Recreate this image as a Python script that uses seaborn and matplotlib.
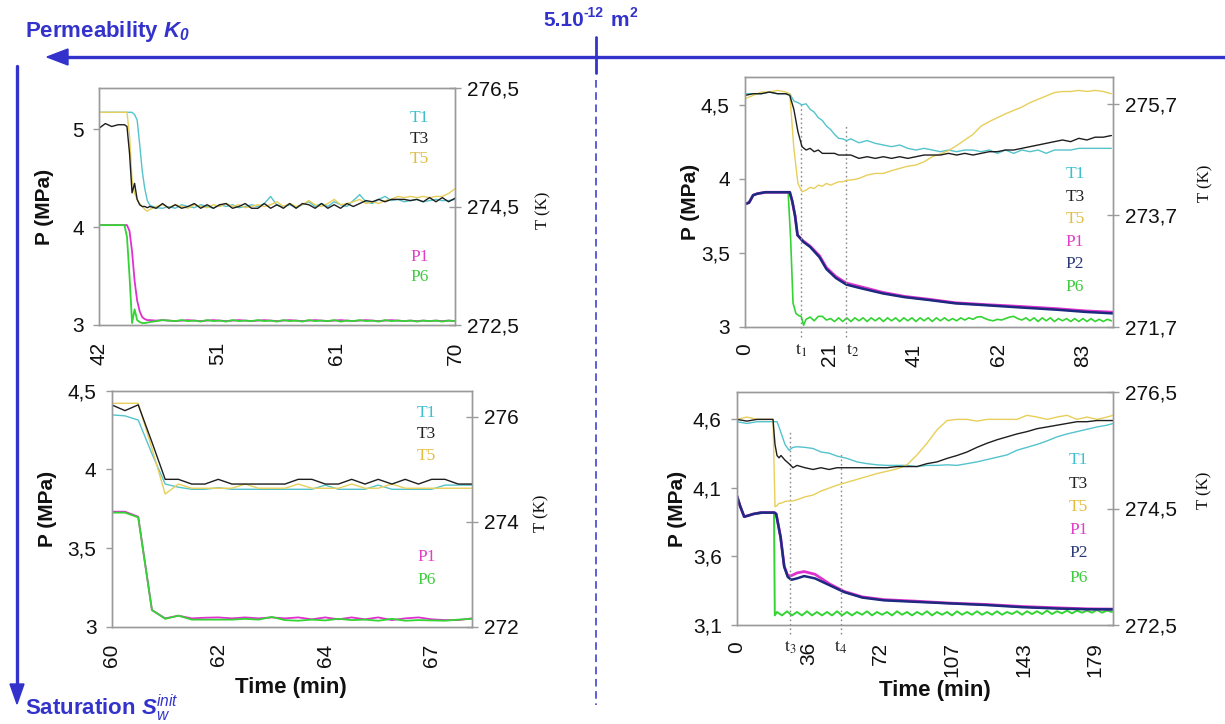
import matplotlib
matplotlib.use('Agg')
import matplotlib.pyplot as plt
import seaborn as sns
from matplotlib.lines import Line2D
from matplotlib.patches import Polygon
import matplotlib.transforms as mtransforms

# ---------------- data: top-left panel ----------------
TL_TIME = [42.0, 42.5, 43.0, 43.5, 44.0,
           44.2, 44.4, 44.6, 44.8, 45.0, 45.2, 45.4, 45.6, 45.8, 46.0,
           46.5, 47.0, 47.5, 48.0, 48.5, 49.0, 49.5, 50.0, 50.5, 51.0,
           51.5, 52.0, 52.5, 53.0, 53.5, 54.0, 54.5, 55.0, 55.5, 56.0,
           56.5, 57.0, 57.5, 58.0, 58.5, 59.0, 59.5, 60.0, 60.5, 61.0,
           61.5, 62.0, 62.5, 63.0, 63.5, 64.0, 64.5, 65.0, 65.5, 66.0,
           66.5, 67.0, 67.5, 68.0, 68.5, 69.0, 69.5, 70.0]
TL_T1 = [276.09, 276.09, 276.09, 276.09, 276.09,
         276.09, 276.09, 276.09, 276.05, 275.96, 275.55, 275.10, 274.80, 274.60, 274.52,
         274.48, 274.47, 274.50, 274.47, 274.53, 274.50, 274.48, 274.53, 274.50, 274.47,
         274.53, 274.50, 274.53, 274.48, 274.50, 274.53, 274.50, 274.55, 274.67, 274.52,
         274.50, 274.53, 274.48, 274.53, 274.58, 274.50, 274.55, 274.50, 274.58, 274.53,
         274.50, 274.60, 274.70, 274.58, 274.55, 274.62, 274.67, 274.60, 274.62, 274.58,
         274.60, 274.62, 274.58, 274.60, 274.62, 274.60, 274.60, 274.62]
TL_T3 = [275.82, 275.90, 275.85, 275.88, 275.88,
         275.85, 275.40, 274.73, 274.89, 274.62, 274.53, 274.50, 274.50, 274.48, 274.50,
         274.47, 274.55, 274.47, 274.53, 274.47, 274.50, 274.55, 274.47, 274.53, 274.47,
         274.53, 274.55, 274.47, 274.50, 274.55, 274.47, 274.47, 274.55, 274.47, 274.53,
         274.47, 274.55, 274.47, 274.55, 274.53, 274.47, 274.55, 274.47, 274.53, 274.47,
         274.55, 274.50, 274.55, 274.60, 274.58, 274.62, 274.58, 274.62, 274.62, 274.62,
         274.60, 274.62, 274.58, 274.65, 274.58, 274.65, 274.58, 274.64]
TL_T5 = [276.09, 276.09, 276.09, 276.09, 276.09,
         276.09, 275.70, 274.95, 274.72, 274.62, 274.55, 274.50, 274.45, 274.42, 274.45,
         274.50, 274.53, 274.48, 274.53, 274.50, 274.47, 274.53, 274.50, 274.48, 274.53,
         274.50, 274.55, 274.50, 274.53, 274.48, 274.50, 274.53, 274.50, 274.53, 274.58,
         274.50, 274.55, 274.50, 274.53, 274.60, 274.53, 274.50, 274.55, 274.62, 274.53,
         274.55, 274.58, 274.62, 274.55, 274.58, 274.55, 274.60, 274.62, 274.67, 274.65,
         274.67, 274.65, 274.67, 274.65, 274.67, 274.67, 274.72, 274.80]
TL_P1 = [4.02, 4.02, 4.02, 4.02, 4.02,
         4.02, 3.96, 3.75, 3.45, 3.25, 3.14, 3.08, 3.06, 3.05, 3.05,
         3.045, 3.05, 3.045, 3.04, 3.045, 3.05, 3.045, 3.04, 3.045, 3.05,
         3.045, 3.04, 3.045, 3.05, 3.045, 3.04, 3.045, 3.05, 3.045, 3.04,
         3.045, 3.05, 3.045, 3.04, 3.045, 3.05, 3.045, 3.04, 3.045, 3.05,
         3.045, 3.04, 3.045, 3.05, 3.045, 3.04, 3.045, 3.05, 3.045, 3.04,
         3.045, 3.04, 3.045, 3.04, 3.045, 3.04, 3.045, 3.04]
TL_P6 = [4.02, 4.02, 4.02, 4.02, 4.02,
         3.90, 3.50, 3.02, 3.16, 3.05, 3.03, 3.02, 3.02, 3.025, 3.03,
         3.04, 3.05, 3.045, 3.04, 3.05, 3.04, 3.045, 3.035, 3.05, 3.04,
         3.045, 3.035, 3.05, 3.04, 3.045, 3.04, 3.05, 3.04, 3.045, 3.035,
         3.05, 3.04, 3.045, 3.035, 3.05, 3.04, 3.045, 3.04, 3.05, 3.035,
         3.045, 3.04, 3.05, 3.04, 3.045, 3.035, 3.05, 3.04, 3.045, 3.04,
         3.045, 3.035, 3.045, 3.04, 3.045, 3.035, 3.045, 3.04]

# ---------------- data: bottom-left panel ----------------
BL_TIME = [60.00, 60.29, 60.58, 60.88, 61.17, 61.46, 61.75, 62.04, 62.33, 62.63,
           62.92, 63.21, 63.50, 63.79, 64.08, 64.38, 64.67, 64.96, 65.25, 65.54,
           65.83, 66.13, 66.42, 66.71, 67.00, 67.29, 67.58, 67.88]
BL_T1 = [276.04, 276.02, 275.94, 275.30, 274.72, 274.66, 274.62, 274.62, 274.65, 274.62,
         274.62, 274.62, 274.62, 274.62, 274.62, 274.62, 274.70, 274.62, 274.62, 274.62,
         274.70, 274.62, 274.62, 274.62, 274.62, 274.70, 274.70, 274.70]
BL_T3 = [276.23, 276.12, 276.23, 275.52, 274.81, 274.81, 274.72, 274.72, 274.81, 274.72,
         274.72, 274.72, 274.72, 274.72, 274.81, 274.81, 274.72, 274.72, 274.81, 274.72,
         274.81, 274.72, 274.81, 274.72, 274.81, 274.81, 274.72, 274.72]
BL_T5 = [276.26, 276.26, 276.26, 275.40, 274.53, 274.72, 274.64, 274.64, 274.64, 274.64,
         274.72, 274.64, 274.64, 274.64, 274.72, 274.64, 274.64, 274.64, 274.72, 274.64,
         274.64, 274.72, 274.64, 274.64, 274.64, 274.64, 274.64, 274.64]
BL_P1 = [3.731, 3.731, 3.699, 3.106, 3.053, 3.070, 3.053, 3.057, 3.059, 3.053,
         3.059, 3.053, 3.059, 3.053, 3.059, 3.047, 3.059, 3.047, 3.059, 3.047,
         3.059, 3.042, 3.053, 3.059, 3.047, 3.042, 3.042, 3.053]
BL_P6 = [3.725, 3.725, 3.695, 3.106, 3.050, 3.070, 3.045, 3.045, 3.045, 3.045,
         3.050, 3.045, 3.062, 3.042, 3.038, 3.045, 3.040, 3.050, 3.042, 3.045,
         3.038, 3.050, 3.038, 3.042, 3.040, 3.038, 3.045, 3.050]

# ---------------- data: top-right panel ----------------
TR_TIME = [0, 2, 4, 6, 8, 10, 11, 12, 13, 14,
           15, 16, 17, 18, 19, 20, 21, 22, 23, 24,
           25, 26, 28, 30, 32, 34, 36, 38, 40, 42,
           44, 46, 48, 50, 52, 54, 56, 58, 60, 62,
           64, 66, 68, 70, 72, 74, 76, 78, 80, 82,
           84, 86, 88, 90]
TR_T1 = [275.88, 275.88, 275.88, 275.91, 275.88, 275.88, 275.88, 275.75, 275.72, 275.68,
         275.70, 275.60, 275.55, 275.45, 275.40, 275.30, 275.24, 275.15, 275.08, 275.07,
         275.04, 275.07, 275.00, 275.04, 274.99, 274.96, 274.93, 274.96, 274.90, 274.87,
         274.90, 274.87, 274.84, 274.87, 274.84, 274.87, 274.87, 274.84, 274.87, 274.81,
         274.87, 274.81, 274.87, 274.84, 274.87, 274.81, 274.87, 274.87, 274.87, 274.90,
         274.90, 274.90, 274.90, 274.90]
TR_T3 = [275.85, 275.88, 275.88, 275.91, 275.88, 275.88, 275.85, 275.60, 275.20, 274.93,
         274.87, 274.90, 274.84, 274.87, 274.81, 274.81, 274.81, 274.81, 274.78, 274.78,
         274.78, 274.78, 274.72, 274.75, 274.72, 274.75, 274.72, 274.75, 274.72, 274.75,
         274.78, 274.78, 274.78, 274.81, 274.78, 274.81, 274.78, 274.81, 274.84, 274.84,
         274.87, 274.87, 274.90, 274.93, 274.96, 274.99, 275.02, 275.05, 275.02, 275.08,
         275.05, 275.10, 275.10, 275.13]
TR_T5 = [275.79, 275.85, 275.91, 275.91, 275.94, 275.91, 275.88, 274.90, 274.27, 274.12,
         274.15, 274.20, 274.18, 274.24, 274.22, 274.27, 274.24, 274.27, 274.30, 274.30,
         274.33, 274.33, 274.36, 274.42, 274.45, 274.45, 274.50, 274.54, 274.58, 274.60,
         274.66, 274.75, 274.80, 274.86, 274.95, 275.05, 275.15, 275.30, 275.38, 275.45,
         275.52, 275.58, 275.64, 275.72, 275.78, 275.84, 275.90, 275.92, 275.92, 275.94,
         275.92, 275.94, 275.92, 275.88]
TR_PTIME = [0, 1, 2, 3, 5, 8, 10, 11, 11.6, 12.3,
            12.9, 14.3, 16, 18.3, 20, 22.3, 24.9, 28.5, 33.9, 39.2,
            45.4, 51.7, 58.8, 67.7, 76.6, 83.7, 90.4]
TR_P1 = [3.83, 3.84, 3.89, 3.90, 3.91, 3.91, 3.91, 3.91, 3.85, 3.75,
         3.62, 3.58, 3.545, 3.48, 3.40, 3.34, 3.295, 3.27, 3.232, 3.205,
         3.185, 3.162, 3.15, 3.137, 3.122, 3.107, 3.098]
TR_P2 = [3.83, 3.84, 3.89, 3.90, 3.91, 3.91, 3.91, 3.91, 3.85, 3.75,
         3.62, 3.575, 3.54, 3.47, 3.39, 3.33, 3.285, 3.26, 3.225, 3.20,
         3.18, 3.158, 3.146, 3.13, 3.115, 3.10, 3.09]
TR_P6_TIME = [0, 1, 2, 3, 5, 8, 10, 10.6, 11.2, 11.8,
              12.5, 13.2, 13.8, 14.4, 15, 16, 17, 18, 19, 20,
              21, 22, 23, 24, 25, 26, 27, 28, 29, 30,
              31, 32, 33, 34, 35, 36, 37, 38, 39, 40,
              41, 42, 43, 44, 45, 46, 47, 48, 49, 50,
              51, 52, 53, 54, 55, 56, 57, 58, 59, 60,
              61, 62, 63, 64, 65, 66, 67, 68, 69, 70,
              71, 72, 73, 74, 75, 76, 77, 78, 79, 80,
              81, 82, 83, 84, 85, 86, 87, 88, 89, 90]
TR_P6 = [3.83, 3.84, 3.89, 3.90, 3.91, 3.91, 3.91, 3.91, 3.60, 3.16,
         3.09, 3.075, 3.07, 3.01, 3.05, 3.065, 3.04, 3.07, 3.07, 3.045,
         3.055, 3.035, 3.06, 3.035, 3.06, 3.035, 3.06, 3.04, 3.06, 3.035,
         3.06, 3.04, 3.06, 3.035, 3.06, 3.04, 3.06, 3.035, 3.06, 3.04,
         3.06, 3.035, 3.06, 3.04, 3.06, 3.035, 3.06, 3.04, 3.06, 3.04,
         3.055, 3.04, 3.06, 3.045, 3.06, 3.05, 3.065, 3.068, 3.055, 3.045,
         3.04, 3.05, 3.045, 3.055, 3.065, 3.07, 3.055, 3.045, 3.06, 3.04,
         3.06, 3.035, 3.06, 3.04, 3.06, 3.035, 3.055, 3.04, 3.055, 3.035,
         3.055, 3.035, 3.055, 3.035, 3.055, 3.035, 3.05, 3.035, 3.05, 3.04]

# ---------------- data: bottom-right panel ----------------
BR_TIME = [0, 5, 10, 15, 18, 19, 20, 21, 22, 24,
           26, 28, 30, 34, 38, 42, 46, 50, 55, 60,
           65, 70, 75, 80, 85, 90, 95, 100, 105, 110,
           115, 120, 125, 130, 135, 140, 145, 150, 155, 160,
           165, 170, 175, 180, 185, 188]
BR_T1 = [275.99, 275.96, 275.99, 275.99, 275.99, 275.99, 275.99, 275.90, 275.80, 275.60,
         275.50, 275.55, 275.56, 275.55, 275.53, 275.47, 275.45, 275.40, 275.36, 275.30,
         275.27, 275.25, 275.24, 275.24, 275.24, 275.22, 275.24, 275.24, 275.25, 275.24,
         275.27, 275.30, 275.34, 275.38, 275.42, 275.50, 275.55, 275.60, 275.66, 275.73,
         275.78, 275.82, 275.86, 275.90, 275.93, 275.96]
BR_T3 = [276.03, 276.00, 276.03, 276.03, 276.03, 275.60, 275.41, 275.37, 275.41, 275.33,
         275.27, 275.20, 275.24, 275.20, 275.17, 275.20, 275.17, 275.20, 275.20, 275.20,
         275.20, 275.20, 275.20, 275.22, 275.22, 275.22, 275.27, 275.30, 275.36, 275.41,
         275.47, 275.55, 275.62, 275.68, 275.73, 275.78, 275.82, 275.87, 275.90, 275.93,
         275.96, 275.99, 275.99, 276.01, 276.01, 276.01]
BR_T5 = [276.03, 276.07, 276.03, 276.03, 276.03, 274.53, 274.55, 274.59, 274.59, 274.62,
         274.63, 274.63, 274.65, 274.70, 274.73, 274.80, 274.85, 274.90, 274.95, 275.00,
         275.05, 275.10, 275.14, 275.18, 275.25, 275.42, 275.62, 275.85, 276.01, 276.03,
         276.03, 276.00, 276.03, 276.03, 276.03, 276.03, 276.10, 276.07, 276.03, 276.07,
         276.10, 276.03, 276.07, 276.03, 276.07, 276.10]
BR_PTIME = [0, 1.5, 3.6, 6, 8.2, 12, 15.4, 18.7, 19.6, 21.8,
            23.6, 25.4, 27.2, 30, 33.6, 39, 46.3, 53.6, 62.7, 73.5,
            88, 106, 124.4, 142.6, 160.7, 175, 188]
BR_P1 = [4.04, 3.97, 3.89, 3.90, 3.91, 3.92, 3.92, 3.92, 3.91, 3.74,
         3.53, 3.46, 3.46, 3.48, 3.49, 3.47, 3.40, 3.345, 3.305, 3.285,
         3.275, 3.26, 3.25, 3.235, 3.225, 3.218, 3.216]
BR_P2 = [4.04, 3.97, 3.89, 3.90, 3.91, 3.92, 3.92, 3.92, 3.91, 3.74,
         3.525, 3.45, 3.43, 3.44, 3.457, 3.44, 3.39, 3.34, 3.30, 3.28,
         3.27, 3.258, 3.246, 3.23, 3.22, 3.215, 3.214]
BR_P6_TIME = [0, 3.6, 8, 15, 18.5, 18.9, 20, 22.5, 25, 27.5,
              30, 32.5, 35, 37.5, 40, 42.5, 45, 47.5, 50, 52.5,
              55, 57.5, 60, 62.5, 65, 67.5, 70, 72.5, 75, 77.5,
              80, 82.5, 85, 87.5, 90, 92.5, 95, 97.5, 100, 102.5,
              105, 107.5, 110, 112.5, 115, 117.5, 120, 122.5, 125, 127.5,
              130, 132.5, 135, 137.5, 140, 142.5, 145, 147.5, 150, 152.5,
              155, 157.5, 160, 162.5, 165, 167.5, 170, 172.5, 175, 177.5,
              180, 182.5, 185, 187.5]
BR_P6 = [4.04, 3.89, 3.91, 3.92, 3.92, 3.17, 3.195, 3.17, 3.20, 3.17,
         3.195, 3.17, 3.20, 3.17, 3.195, 3.17, 3.195, 3.17, 3.20, 3.17,
         3.195, 3.17, 3.195, 3.175, 3.20, 3.17, 3.195, 3.175, 3.195, 3.17,
         3.20, 3.175, 3.195, 3.17, 3.195, 3.175, 3.20, 3.17, 3.195, 3.175,
         3.195, 3.17, 3.20, 3.175, 3.195, 3.175, 3.20, 3.175, 3.195, 3.175,
         3.20, 3.175, 3.195, 3.18, 3.20, 3.175, 3.20, 3.18, 3.20, 3.18,
         3.205, 3.18, 3.20, 3.185, 3.205, 3.185, 3.205, 3.19, 3.205, 3.19,
         3.21, 3.19, 3.205, 3.195]

# ---------------- axis ticks / labels ----------------
TL_XTICKS = [42, 51.333, 60.667, 70]
TL_XLABELS = ['42', '51', '61', '70']
TL_PTICKS = [3, 4, 5]
TL_PLABELS = ['3', '4', '5']
TL_TTICKS = [272.5, 274.5, 276.5]
TL_TLABELS = ['272,5', '274,5', '276,5']

BL_XTICKS = [60, 62.333, 64.667, 67]
BL_XLABELS = ['60', '62', '64', '67']
BL_PTICKS = [3, 3.5, 4, 4.5]
BL_PLABELS = ['3', '3,5', '4', '4,5']
BL_TTICKS = [272, 274, 276]
BL_TLABELS = ['272', '274', '276']

TR_XTICKS = [0, 20.75, 41.5, 62.25, 83]
TR_XLABELS = ['0', '21', '41', '62', '83']
TR_PTICKS = [3, 3.5, 4, 4.5]
TR_PLABELS = ['3', '3,5', '4', '4,5']
TR_TTICKS = [271.7, 273.7, 275.7]
TR_TLABELS = ['271,7', '273,7', '275,7']

BR_XTICKS = [0, 35.8, 71.6, 107.4, 143.2, 179]
BR_XLABELS = ['0', '36', '72', '107', '143', '179']
BR_PTICKS = [3.1, 3.6, 4.1, 4.6]
BR_PLABELS = ['3,1', '3,6', '4,1', '4,6']
BR_TTICKS = [272.5, 274.5, 276.5]
BR_TLABELS = ['272,5', '274,5', '276,5']

TR_MARKS = [('1', 13.8), ('2', 24.8)]
BR_MARKS = [('3', 26.5), ('4', 52.0)]

# ---------------- style ----------------
sns.set_theme(style='white')
plt.rcParams['font.family'] = ['Liberation Sans', 'DejaVu Sans']
plt.rcParams['mathtext.fontset'] = 'custom'
plt.rcParams['mathtext.rm'] = 'Liberation Sans'
plt.rcParams['mathtext.it'] = 'Liberation Sans:italic'
plt.rcParams['mathtext.bf'] = 'Liberation Sans:bold'
plt.rcParams['mathtext.bfit'] = 'Liberation Sans:bold:italic'

LINE_COL = {'T1': '#55c3cc', 'T3': '#1e1e1e', 'T5': '#e8cf5a',
            'P1': '#e030d0', 'P2': '#1c2a80', 'P6': '#33d433'}
TEXT_COL = {'T1': '#3cc0d0', 'T3': '#222222', 'T5': '#e2bd42',
            'P1': '#e040c8', 'P2': '#2a3a78', 'P6': '#40cc40'}
BLUE = '#3333cc'
SPINE = '#9a9a9a'
W, H = 1225, 724

fig = plt.figure(figsize=(12.25, 7.24), dpi=100)
fig.patch.set_facecolor('white')


def panel(rect, xlim, xt, xl, plim, pt, pl, tlim, tt, tlab, tser, pser, leg,
          ylab_x, tlab_xy, xlabel=None, xlabel_xy=None, marks=None, marks_y=None):
    ax = fig.add_axes(rect)
    ax2 = ax.twinx()
    for name, t, v, lw in pser:
        sns.lineplot(x=t, y=v, ax=ax, color=LINE_COL[name], linewidth=lw,
                     estimator=None, sort=False, legend=False)
    for name, t, v in tser:
        sns.lineplot(x=t, y=v, ax=ax2, color=LINE_COL[name], linewidth=1.0,
                     estimator=None, sort=False, legend=False)
    ax.set_xlim(*xlim)
    ax.set_ylim(*plim)
    ax2.set_ylim(*tlim)
    ax.set_xticks(xt)
    ax.set_xticklabels(xl, rotation=90)
    ax.set_yticks(pt)
    ax.set_yticklabels(pl)
    ax2.set_yticks(tt)
    ax2.set_yticklabels(tlab)
    for a in (ax, ax2):
        for s in a.spines.values():
            s.set_color(SPINE)
            s.set_linewidth(1.0)
    ax.tick_params(axis='x', length=0, pad=12, labelsize=15, colors='#111111')
    ax.tick_params(axis='y', direction='out', length=4, width=1, color=SPINE,
                   pad=7, labelsize=15, labelcolor='#111111', left=True)
    ax2.tick_params(axis='y', direction='inout', length=8, width=1, color=SPINE,
                    pad=5, labelsize=15, labelcolor='#111111', right=True)
    ax.set_xlabel('')
    ax.set_ylabel('P (MPa)', fontweight='bold', fontsize=15, color='#111111')
    ax.yaxis.set_label_coords(ylab_x, 0.5)
    ax2.set_ylabel('T (K)', fontfamily='Liberation Serif', fontsize=12, color='#111111')
    ax2.yaxis.set_label_coords(*tlab_xy)
    if xlabel:
        ax.set_xlabel(xlabel, fontweight='bold', fontsize=16, color='#111111')
        ax.xaxis.set_label_coords(*xlabel_xy)
    lx, ys, names = leg
    for name, yy in zip(names, ys):
        ax.text(lx, yy, name, transform=ax.transAxes, color=TEXT_COL[name],
                fontfamily='Liberation Serif', fontsize=12.5, ha='center', va='center')
    if marks:
        trans = mtransforms.blended_transform_factory(ax.transData, ax.transAxes)
        for (lab, xv), (top, ha) in zip(marks, marks_y):
            ax.plot([xv, xv], [-0.04, top], transform=trans, clip_on=False,
                    color='#8a8a8a', linestyle=(0, (1.2, 2)), linewidth=1.0)
            ax.text(xv, -0.095, r'$\mathrm{t}_{%s}$' % lab, transform=trans,
                    math_fontfamily='stix', fontsize=13, ha=ha, va='center',
                    color='#222222')
    ax.set_zorder(1)
    ax.patch.set_visible(False)
    ax2.set_zorder(2)
    return ax, ax2


# top-left
panel([99 / W, 1 - 325 / H, 356 / W, 237 / H], (42, 70), TL_XTICKS, TL_XLABELS,
      (3, 5.42), TL_PTICKS, TL_PLABELS, (272.5, 276.5), TL_TTICKS, TL_TLABELS,
      [('T1', TL_TIME, TL_T1), ('T5', TL_TIME, TL_T5), ('T3', TL_TIME, TL_T3)],
      [('P1', TL_TIME, TL_P1, 1.3), ('P6', TL_TIME, TL_P6, 1.3)],
      (0.90, [0.873, 0.785, 0.700, 0.287, 0.203], ['T1', 'T3', 'T5', 'P1', 'P6']),
      -0.125, (1.225, 0.485))

# bottom-left
panel([111.7 / W, 1 - 626.7 / H, 360 / W, 236 / H], (60, 67.875), BL_XTICKS, BL_XLABELS,
      (3, 4.5), BL_PTICKS, BL_PLABELS, (272, 276.5), BL_TTICKS, BL_TLABELS,
      [('T1', BL_TIME, BL_T1), ('T5', BL_TIME, BL_T5), ('T3', BL_TIME, BL_T3)],
      [('P1', BL_TIME, BL_P1, 1.3), ('P6', BL_TIME, BL_P6, 1.3)],
      (0.875, [0.904, 0.815, 0.723, 0.297, 0.198], ['T1', 'T3', 'T5', 'P1', 'P6']),
      -0.152, (1.17, 0.48), xlabel='Time (min)', xlabel_xy=(0.498, -0.215))

# top-right
panel([745 / W, 1 - 326.7 / H, 368 / W, 249.7 / H], (0, 90.4), TR_XTICKS, TR_XLABELS,
      (3, 4.69), TR_PTICKS, TR_PLABELS, (271.7, 276.18), TR_TTICKS, TR_TLABELS,
      [('T1', TR_TIME, TR_T1), ('T5', TR_TIME, TR_T5), ('T3', TR_TIME, TR_T3)],
      [('P6', TR_P6_TIME, TR_P6, 1.2), ('P1', TR_PTIME, TR_P1, 2.0), ('P2', TR_PTIME, TR_P2, 1.8)],
      (0.897, [0.613, 0.52, 0.433, 0.34, 0.253, 0.16], ['T1', 'T3', 'T5', 'P1', 'P2', 'P6']),
      -0.122, (1.228, 0.575), marks=TR_MARKS, marks_y=[(0.90, 'center'), (0.813, 'left')])

# bottom-right
panel([737 / W, 1 - 625 / H, 376 / W, 233 / H], (0, 188), BR_XTICKS, BR_XLABELS,
      (3.1, 4.8), BR_PTICKS, BR_PLABELS, (272.5, 276.5), BR_TTICKS, BR_TLABELS,
      [('T1', BR_TIME, BR_T1), ('T5', BR_TIME, BR_T5), ('T3', BR_TIME, BR_T3)],
      [('P6', BR_P6_TIME, BR_P6, 1.4), ('P1', BR_PTIME, BR_P1, 2.0), ('P2', BR_PTIME, BR_P2, 1.8)],
      (0.908, [0.707, 0.607, 0.507, 0.407, 0.307, 0.2], ['T1', 'T3', 'T5', 'P1', 'P2', 'P6']),
      -0.132, (1.223, 0.58), xlabel='Time (min)', xlabel_xy=(0.527, -0.235),
      marks=BR_MARKS, marks_y=[(0.836, 'center'), (0.736, 'center')])


# ---------------- decorations (figure pixel coords) ----------------
def P(x, y):
    return (x / W, 1 - y / H)


def fline(x0, y0, x1, y1, **kw):
    (a, b), (c, d) = P(x0, y0), P(x1, y1)
    fig.add_artist(Line2D([a, c], [b, d], transform=fig.transFigure, color=BLUE, **kw))


fline(1225, 57, 62, 57, linewidth=2.4)
fig.add_artist(Polygon([P(47, 57), P(68, 49), P(68, 65)], closed=True,
                       transform=fig.transFigure, color=BLUE))
fline(596, 37, 596, 73, linewidth=2.0)
fline(596, 80, 596, 705, linewidth=1.1, linestyle=(0, (5, 3)))
fline(17, 66, 17, 690, linewidth=2.4)
fig.add_artist(Polygon([P(17, 704), P(10, 684), P(24, 684)], closed=True,
                       transform=fig.transFigure, color=BLUE))

fig.text(*P(25, 31), r'Permeability $\mathbfit{K}_{\mathbfit{0}}$', color=BLUE,
         fontsize=16, fontweight='bold', ha='left', va='center')
# "5.10" + raised "-12" + " m" + raised "2", built as separate text pieces
fig.text(*P(543, 20), '5.10', color=BLUE, fontsize=15, fontweight='bold',
         ha='left', va='center')
fig.text(*P(584, 13), '-12', color=BLUE, fontsize=10, fontweight='bold',
         ha='left', va='center')
fig.text(*P(611, 20), 'm', color=BLUE, fontsize=15, fontweight='bold',
         ha='left', va='center')
fig.text(*P(630, 13), '2', color=BLUE, fontsize=10, fontweight='bold',
         ha='left', va='center')
fig.text(*P(25, 708), r'Saturation $\mathbfit{S}_{\mathit{w}}^{\mathit{init}}$', color=BLUE,
         fontsize=16, fontweight='bold', ha='left', va='center')

fig.savefig('out.png', dpi=100, facecolor='white')
